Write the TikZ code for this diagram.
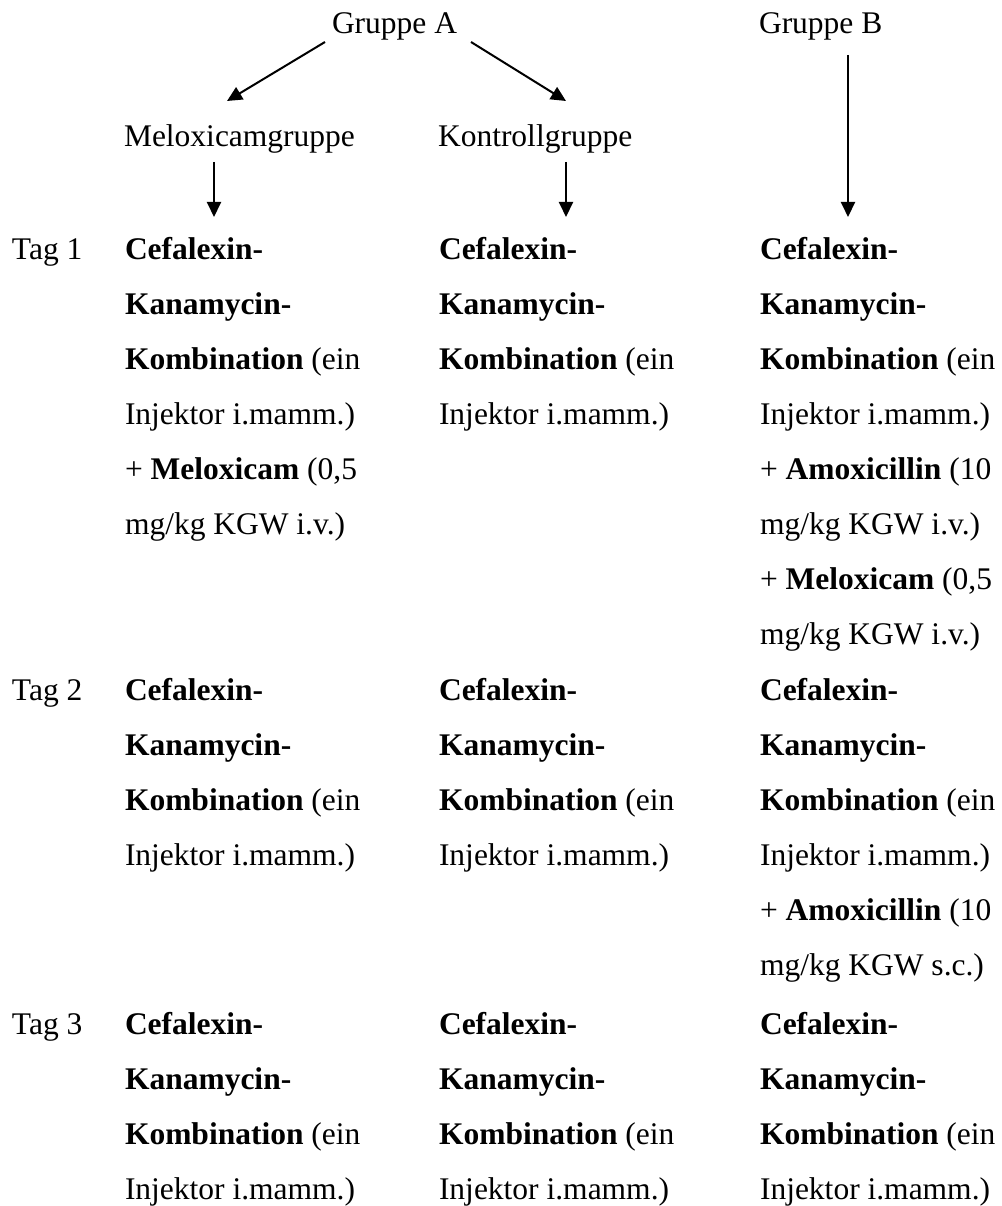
\documentclass[tikz,border=0pt]{standalone}
\usepackage{fontspec}
\setmainfont{Liberation Serif}
\usetikzlibrary{arrows.meta}
\tikzset{
  txt/.style={inner sep=0pt, outer sep=0pt, anchor=base west, font=\fontsize{31.5}{38}\selectfont},
  arr/.style={line width=2pt, -{Triangle[length=15pt,width=14pt]}}
}
\newcommand\cellblk[4]{%
  \foreach \celltext [count=\i from 0] in {#4}
    \node[txt] (#1-\i) at (#2,{#3+\i*55}) {\celltext};%
}
\begin{document}
\begin{tikzpicture}[x=1pt,y=-1pt]
\useasboundingbox (0,0) rectangle (1001,1206);
% headers
\node[txt] (ga) at (332,34) {Gruppe A};
\node[txt] (gb) at (759,34) {Gruppe B};
\node[txt] (mg) at (124,147) {Meloxicamgruppe};
\node[txt] (kg) at (438,147) {Kontrollgruppe};
% day labels
\node[txt] (t1) at (12,259) {Tag 1};
\node[txt] (t2) at (12,700) {Tag 2};
\node[txt] (t3) at (12,1034) {Tag 3};
% Tag 1
\cellblk{a1}{125}{259}{{\textbf{Cefalexin-}},{\textbf{Kanamycin-}},{\textbf{Kombination} (ein},{Injektor i.mamm.)},{+ \textbf{Meloxicam} (0,5},{mg/kg KGW i.v.)}}
\cellblk{b1}{439}{259}{{\textbf{Cefalexin-}},{\textbf{Kanamycin-}},{\textbf{Kombination} (ein},{Injektor i.mamm.)}}
\cellblk{c1}{760}{259}{{\textbf{Cefalexin-}},{\textbf{Kanamycin-}},{\textbf{Kombination} (ein},{Injektor i.mamm.)},{+ \textbf{Amoxicillin} (10},{mg/kg KGW i.v.)},{+ \textbf{Meloxicam} (0,5},{mg/kg KGW i.v.)}}
% Tag 2
\cellblk{a2}{125}{700}{{\textbf{Cefalexin-}},{\textbf{Kanamycin-}},{\textbf{Kombination} (ein},{Injektor i.mamm.)}}
\cellblk{b2}{439}{700}{{\textbf{Cefalexin-}},{\textbf{Kanamycin-}},{\textbf{Kombination} (ein},{Injektor i.mamm.)}}
\cellblk{c2}{760}{700}{{\textbf{Cefalexin-}},{\textbf{Kanamycin-}},{\textbf{Kombination} (ein},{Injektor i.mamm.)},{+ \textbf{Amoxicillin} (10},{mg/kg KGW s.c.)}}
% Tag 3
\cellblk{a3}{125}{1034}{{\textbf{Cefalexin-}},{\textbf{Kanamycin-}},{\textbf{Kombination} (ein},{Injektor i.mamm.)}}
\cellblk{b3}{439}{1034}{{\textbf{Cefalexin-}},{\textbf{Kanamycin-}},{\textbf{Kombination} (ein},{Injektor i.mamm.)}}
\cellblk{c3}{760}{1034}{{\textbf{Cefalexin-}},{\textbf{Kanamycin-}},{\textbf{Kombination} (ein},{Injektor i.mamm.)}}
% arrows
\draw[arr] ([shift={(-7,8)}]ga.base west) -- ([shift={(103,-46)}]mg.base west);
\draw[arr] ([shift={(139,8)}]ga.base west) -- ([shift={(128,-46)}]kg.base west);
\draw[arr] ([shift={(90,15)}]mg.base west) -- ([shift={(89,-42)}]a1-0.base west);
\draw[arr] ([shift={(128,15)}]kg.base west) -- ([shift={(127,-42)}]b1-0.base west);
\draw[arr] ([shift={(89,21)}]gb.base west) -- ([shift={(88,-42)}]c1-0.base west);
\end{tikzpicture}
\end{document}
